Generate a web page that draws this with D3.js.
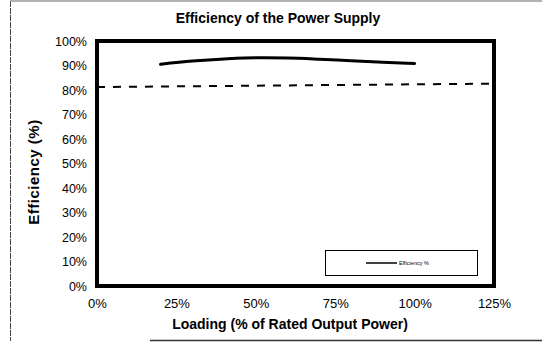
<!DOCTYPE html>
<html>
<head>
<meta charset="utf-8">
<script src="https://cdn.jsdelivr.net/npm/d3@7"></script>
<style>
  html, body { margin: 0; padding: 0; background: #fff; }
  svg { display: block; font-family: "Liberation Sans", Arial, sans-serif; }
</style>
</head>
<body>
<svg id="chart" width="542" height="342"></svg>
<script>
// Efficiency measured across output loading (% of rated power)
const loading = [20, 30, 40, 50, 60, 70, 80, 90, 100];
const efficiency = [90.5, 91.8, 92.7, 93.2, 93.1, 92.6, 91.9, 91.3, 90.8];

// Reference requirement line (dashed), across the whole loading range
const limitLoading = [0, 125];
const limitEfficiency = [81.2, 82.6];

const xTicks = [0, 25, 50, 75, 100, 125];
const yTicks = [0, 10, 20, 30, 40, 50, 60, 70, 80, 90, 100];

const svg = d3.select("#chart");

const x = d3.scaleLinear().domain([0, 125]).range([97, 494]);
const y = d3.scaleLinear().domain([0, 100]).range([286, 41]);

// outer chart-area border
svg.append("line").attr("x1", 10.5).attr("x2", 10.5).attr("y1", 1).attr("y2", 341)
  .attr("stroke", "#444").attr("stroke-width", 1).attr("stroke-dasharray", "6,1");
svg.append("line").attr("x1", 10).attr("x2", 542).attr("y1", 1).attr("y2", 1)
  .attr("stroke", "#999").attr("stroke-width", 1.5);
svg.append("line").attr("x1", 150).attr("x2", 542).attr("y1", 340.5).attr("y2", 340.5)
  .attr("stroke", "#333").attr("stroke-width", 1.5);

// title
svg.append("text")
  .attr("x", 278).attr("y", 23)
  .attr("text-anchor", "middle")
  .attr("font-size", 14).attr("font-weight", "bold")
  .text("Efficiency of the Power Supply");

// y axis labels
const yAxis = d3.axisLeft(y).tickValues(yTicks).tickSize(0).tickPadding(10)
  .tickFormat(d => d + "%");
svg.append("g").attr("transform", `translate(${x(0)},0)`).call(yAxis)
  .call(g => g.select(".domain").remove())
  .selectAll("text").attr("font-size", 12.5).attr("font-family", "Liberation Sans, Arial, sans-serif").attr("fill", "#000");

// x axis labels
const xAxis = d3.axisBottom(x).tickValues(xTicks).tickSize(0).tickPadding(13)
  .tickFormat(d => d + "%");
svg.append("g").attr("transform", `translate(0,${y(0)})`).call(xAxis)
  .call(g => g.select(".domain").remove())
  .selectAll("text").attr("font-size", 13).attr("font-family", "Liberation Sans, Arial, sans-serif").attr("fill", "#000");

// axis titles
svg.append("text")
  .attr("x", 290).attr("y", 329)
  .attr("text-anchor", "middle")
  .attr("font-size", 14).attr("font-weight", "bold")
  .text("Loading (% of Rated Output Power)");

svg.append("text")
  .attr("transform", "translate(39,172) rotate(-90)")
  .attr("text-anchor", "middle")
  .attr("font-size", 15).attr("font-weight", "bold")
  .attr("letter-spacing", 0.5)
  .text("Efficiency (%)");

// plot frame
svg.append("rect")
  .attr("x", x(0)).attr("y", y(100))
  .attr("width", x(125) - x(0)).attr("height", y(0) - y(100))
  .attr("fill", "none").attr("stroke", "#000").attr("stroke-width", 4);

// dashed requirement line
const limitLine = d3.line().x(d => x(d[0])).y(d => y(d[1]));
svg.append("path")
  .datum(d3.zip(limitLoading, limitEfficiency))
  .attr("d", limitLine)
  .attr("fill", "none").attr("stroke", "#000")
  .attr("stroke-width", 2).attr("stroke-dasharray", "8,8");

// efficiency curve
const effLine = d3.line().x(d => x(d[0])).y(d => y(d[1])).curve(d3.curveMonotoneX);
svg.append("path")
  .datum(d3.zip(loading, efficiency))
  .attr("d", effLine)
  .attr("fill", "none").attr("stroke", "#000")
  .attr("stroke-width", 3).attr("stroke-linecap", "round");

// legend
const legend = svg.append("g");
legend.append("rect")
  .attr("x", 325.5).attr("y", 250.5).attr("width", 152).attr("height", 25)
  .attr("fill", "#fff").attr("stroke", "#000").attr("stroke-width", 1);
legend.append("line")
  .attr("x1", 366).attr("x2", 397).attr("y1", 263).attr("y2", 263)
  .attr("stroke", "#000").attr("stroke-width", 1.5);
legend.append("text")
  .attr("x", 399).attr("y", 265)
  .attr("font-size", 5.5)
  .text("Efficiency %");
</script>
</body>
</html>
